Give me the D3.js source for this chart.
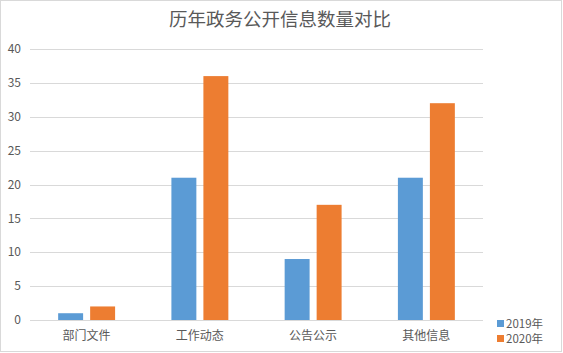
<!DOCTYPE html>
<html><head><meta charset="utf-8">
<script src="https://cdn.jsdelivr.net/npm/d3@7"></script>
<style>
html,body{margin:0;padding:0;background:#fff;}
svg{display:block;font-family:"Noto Sans CJK SC","Noto Sans",sans-serif;}
</style></head>
<body><svg id="c" width="563" height="353"></svg>
<script>
const categories = ["部门文件","工作动态","公告公示","其他信息"];
const seriesNames = ["2019年","2020年"];
const values2019 = [1,21,9,21];
const values2020 = [2,36,17,32];
const yTicks = [0,5,10,15,20,25,30,35,40];
const title = "历年政务公开信息数量对比";
const colors = ["#5B9BD5","#ED7D31"];

const svg = d3.select("#c");
svg.append("rect").attr("x",0.5).attr("y",0.5).attr("width",561).attr("height",351)
  .attr("fill","#fff").attr("stroke","#D9D9D9");

const pLeft=30, pRight=483, pTop=49, pBottom=320;
const x = d3.scaleBand().domain(categories).range([pLeft,pRight]);
const y = d3.scaleLinear().domain([0,40]).range([pBottom,pTop]);
const xs = d3.scaleBand().domain(seriesNames).range([0,x.bandwidth()]).paddingInner(0.22).paddingOuter(0.88);

const g = svg.append("g");
g.selectAll("line.grid").data(yTicks).join("line")
  .attr("x1",pLeft).attr("x2",pRight)
  .attr("y1",d=>Math.round(y(d))+0.5).attr("y2",d=>Math.round(y(d))+0.5)
  .attr("stroke","#D9D9D9").attr("stroke-width",1);

g.selectAll("text.yt").data(yTicks).join("text")
  .attr("x",21).attr("y",d=>y(d)).attr("dy","0.35em")
  .attr("text-anchor","end").attr("font-size",12).attr("fill","#595959")
  .text(d=>d);

const data = [values2019, values2020];
data.forEach((vals,si)=>{
  g.selectAll("rect.s"+si).data(categories).join("rect")
    .attr("class","s"+si)
    .attr("x",(c)=>x(c)+xs(seriesNames[si]))
    .attr("width",xs.bandwidth())
    .attr("y",(c,i)=>y(vals[i]))
    .attr("height",(c,i)=>y(0)-y(vals[i]))
    .attr("fill",colors[si]);
});

g.selectAll("text.xl").data(categories).join("text")
  .attr("x",c=>x(c)+x.bandwidth()/2).attr("y",336).attr("dy","0.35em")
  .attr("text-anchor","middle").attr("font-size",12).attr("fill","#595959")
  .text(d=>d);

svg.append("text").attr("x",280).attr("y",20).attr("dy","0.35em")
  .attr("text-anchor","middle").attr("font-size",18.5).attr("fill","#595959")
  .text(title);

const leg = svg.append("g");
seriesNames.forEach((s,i)=>{
  leg.append("rect").attr("x",497).attr("y",320+i*15).attr("width",7).attr("height",7).attr("fill",colors[i]);
  leg.append("text").attr("x",506).attr("y",323.5+i*15).attr("dy","0.35em")
    .attr("font-size",11.5).attr("fill","#595959").text(s);
});
</script></body></html>
